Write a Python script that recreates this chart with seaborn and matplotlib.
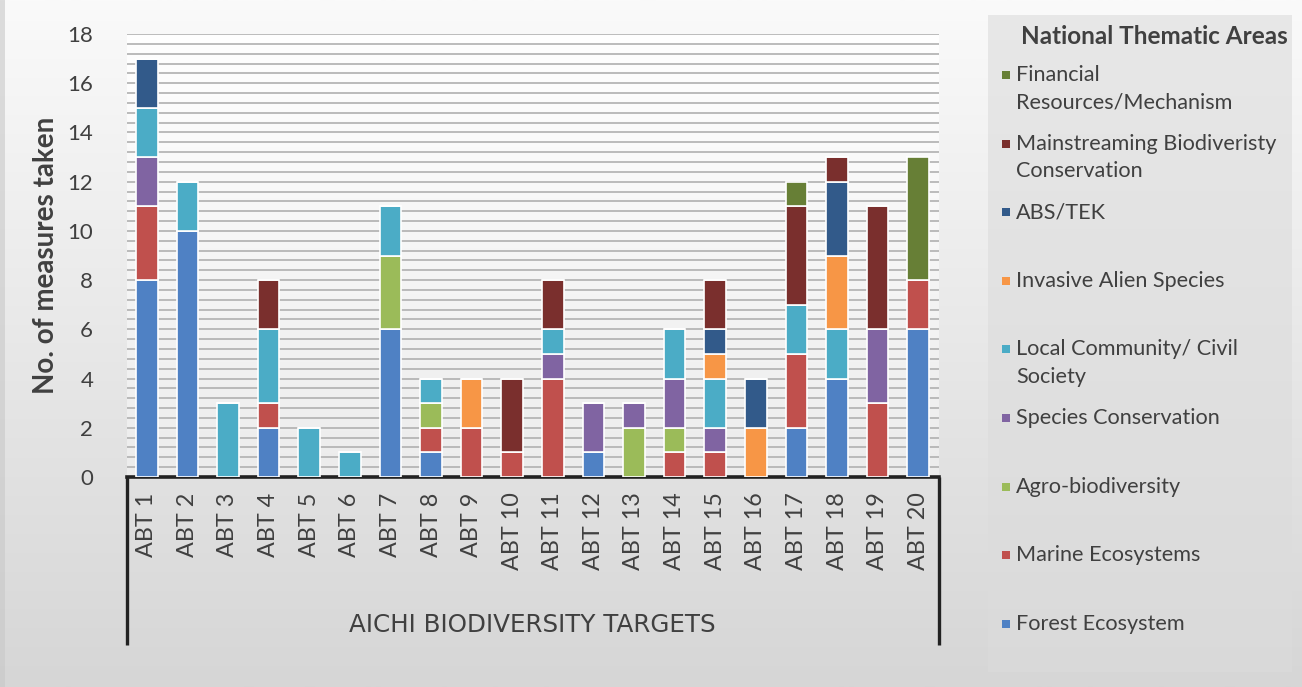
import numpy as np
import pandas as pd
import matplotlib
matplotlib.use("Agg")
import matplotlib.pyplot as plt
from matplotlib.patches import Rectangle
from matplotlib.ticker import MultipleLocator
import seaborn as sns

# Aichi Biodiversity Targets
targets = [f"ABT {i}" for i in range(1, 21)]

# Measures per national thematic area (stacked bottom to top)
forest        = [8, 10, 0, 2, 0, 0, 6, 1, 0, 0, 0, 1, 0, 0, 0, 0, 2, 4, 0, 6]
marine        = [3, 0, 0, 1, 0, 0, 0, 1, 2, 1, 4, 0, 0, 1, 1, 0, 3, 0, 3, 2]
agro          = [0, 0, 0, 0, 0, 0, 3, 1, 0, 0, 0, 0, 2, 1, 0, 0, 0, 0, 0, 0]
species       = [2, 0, 0, 0, 0, 0, 0, 0, 0, 0, 1, 2, 1, 2, 1, 0, 0, 0, 3, 0]
local_comm    = [2, 2, 3, 3, 2, 1, 2, 1, 0, 0, 1, 0, 0, 2, 2, 0, 2, 2, 0, 0]
invasive      = [0, 0, 0, 0, 0, 0, 0, 0, 2, 0, 0, 0, 0, 0, 1, 2, 0, 3, 0, 0]
abs_tek       = [2, 0, 0, 0, 0, 0, 0, 0, 0, 0, 0, 0, 0, 0, 1, 2, 0, 3, 0, 0]
mainstreaming = [0, 0, 0, 2, 0, 0, 0, 0, 0, 3, 2, 0, 0, 0, 2, 0, 4, 1, 5, 0]
financial     = [0, 0, 0, 0, 0, 0, 0, 0, 0, 0, 0, 0, 0, 0, 0, 0, 1, 0, 0, 5]

area_names = [
    "Forest Ecosystem", "Marine Ecosystems", "Agro-biodiversity",
    "Species Conservation", "Local Community/ Civil\nSociety",
    "Invasive Alien Species", "ABS/TEK",
    "Mainstreaming Biodiveristy\nConservation",
    "Financial\nResources/Mechanism",
]
area_values = [forest, marine, agro, species, local_comm,
               invasive, abs_tek, mainstreaming, financial]
area_colors = ["#4f81c4", "#c0504d", "#9bbb59", "#8064a2", "#4bacc6",
               "#f79646", "#325a8a", "#7a2f2d", "#677f36"]

yticks = list(range(0, 19, 2))

sns.set_theme(style="white")
plt.rcParams["font.family"] = ["Lato", "DejaVu Sans"]

W, H = 1302, 687
fig = plt.figure(figsize=(W / 100, H / 100), dpi=100)

# Figure background: soft vertical grey gradient
bg = fig.add_axes([0, 0, 1, 1], zorder=-10)
grad = np.linspace(0, 1, 256)[:, None]
bg_cmap = matplotlib.colors.LinearSegmentedColormap.from_list(
    "bg", ["#fafafa", "#e8e8e8", "#d6d6d6"])
bg.imshow(grad, aspect="auto", cmap=bg_cmap, extent=[0, 1, 0, 1])
bg.set_xlim(0, 1)
bg.set_ylim(0, 1)
bg.axis("off")
# slightly darker strip along the left edge
bg.add_patch(Rectangle((0, 0), 5 / W, 1, facecolor="#c8c8c8",
                       edgecolor="none", alpha=0.6))

# Legend panel
bg.add_patch(Rectangle((988 / W, 1 - 672 / H), (1292 - 988) / W, (672 - 15) / H,
                       facecolor="#dcdcdc", edgecolor="none", alpha=0.6))

ax_l, ax_r = 126.5 / W, 938.5 / W
ax_b, ax_t = 1 - 477 / H, 1 - 34 / H
ax = fig.add_axes([ax_l, ax_b, ax_r - ax_l, ax_t - ax_b])
ax.set_facecolor("none")

# Plot-area fill: white fading slightly toward the bottom
pa_cmap = matplotlib.colors.LinearSegmentedColormap.from_list(
    "pa", ["#ffffff", "#f6f6f6", "#ececec"])
ax.imshow(grad, aspect="auto", cmap=pa_cmap, extent=[-0.5, 19.5, 0, 18.6],
          zorder=0)

bottom = np.zeros(len(targets))
for name, vals, col in zip(area_names, area_values, area_colors):
    df = pd.DataFrame({"target": targets, "count": vals})
    sns.barplot(data=df, x="target", y="count", order=targets, color=col,
                saturation=1, bottom=bottom.copy(), width=0.53,
                edgecolor="white", linewidth=1.2, ax=ax, zorder=3)
    bottom += np.array(vals)

ax.set_xlim(-0.5, 19.5)
ax.set_ylim(0, 18)
ax.yaxis.set_major_locator(MultipleLocator(2))
ax.yaxis.set_minor_locator(MultipleLocator(0.4))
ax.set_yticks(yticks)
ax.grid(axis="y", which="both", color="#b0b0b0", linewidth=1.2, zorder=1)
ax.set_axisbelow(True)
for s in ["top", "right", "left"]:
    ax.spines[s].set_visible(False)
ax.spines["bottom"].set_color("#222222")
ax.spines["bottom"].set_linewidth(2.6)
ax.tick_params(axis="y", which="both", length=0, labelsize=16,
               labelcolor="#404040", pad=24)
ax.tick_params(axis="x", length=0, labelsize=16.8, labelcolor="#404040",
               pad=11, labelrotation=90)
for lbl in ax.get_xticklabels():
    lbl.set_verticalalignment("top")

ax.set_xlabel("")
ax.set_ylabel("No. of measures taken", fontsize=20, fontweight="bold",
              color="#404040", labelpad=6)

# Bracket framing the category axis
for xa in (0, 1):
    ax.plot([xa, xa], [0, -0.379], transform=ax.transAxes, color="#222222",
            lw=2.4, clip_on=False, solid_capstyle="butt")
ax.text(0.5, -0.334, "AICHI BIODIVERSITY TARGETS", transform=ax.transAxes,
        ha="center", va="center", fontsize=17.7, color="#404040",
        family=["Liberation Sans Narrow", "DejaVu Sans"])

# Legend drawn as a column of swatches, top entry = top of the stack
fig.text(1154 / W, 1 - 37 / H, "National Thematic Areas", ha="center",
         va="center", fontsize=17.5, fontweight="bold", color="#404040")
legend_order = list(range(len(area_names)))[::-1]
for k, idx in enumerate(legend_order):
    yc = 75 + k * 68.6
    fig.patches.append(Rectangle((1002 / W, 1 - (yc + 4) / H), 8 / W, 8 / H,
                                 facecolor=area_colors[idx], edgecolor="none",
                                 transform=fig.transFigure, figure=fig))
    fig.text(1016 / W, 1 - (yc - 10) / H, area_names[idx], ha="left",
             va="top", fontsize=15.6, color="#404040", linespacing=1.48)

fig.savefig("out.png", dpi=100)
